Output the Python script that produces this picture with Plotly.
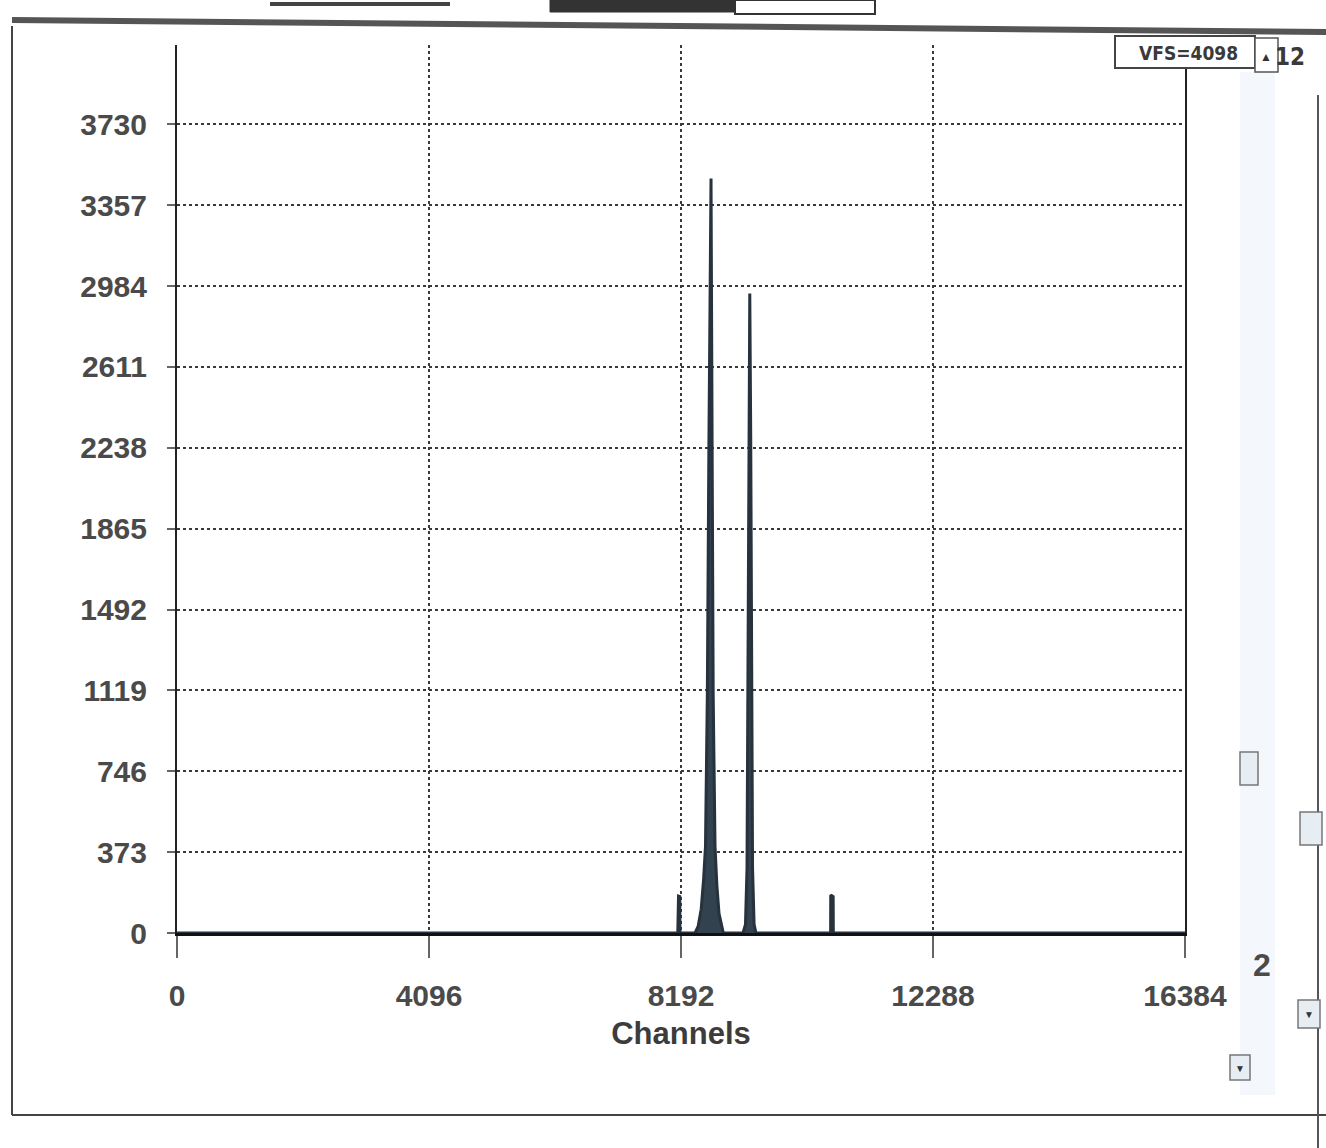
import plotly.graph_objects as go

# ---- data ----
channels = [0, 8140, 8150, 8152, 8172, 8175, 8420, 8470, 8520, 8560, 8590, 8620, 8645, 8662, 8680,
            8698, 8715, 8745, 8775, 8810, 8850, 8880, 9200, 9240, 9265, 9280, 9295, 9310, 9325,
            9340, 9355, 9380, 9410, 10620, 10624, 10626, 10665, 10668, 16384]
counts = [0, 0, 150, 170, 168, 0, 0, 30, 110, 250, 400, 1100, 2230, 3000, 3480,
          2230, 1100, 400, 220, 90, 30, 0, 0, 40, 300, 1200, 2300, 2950, 2300,
          1200, 300, 40, 0, 0, 0, 175, 168, 0, 0]

x_ticks = [0, 4096, 8192, 12288, 16384]
y_ticks = [0, 373, 746, 1119, 1492, 1865, 2238, 2611, 2984, 3357, 3730]
x_range = [0, 16384]
y_range = [0, 4096]

# ---- layout geometry (pixels) ----
W, H = 1326, 1148
L, R, T, B = 177, 1185, 45, 933


def px(x):
    return (x - L) / (R - L)


def py(y):
    return (B - y) / (B - T)


FONT = "Liberation Sans, Arial, sans-serif"
COND = "DejaVu Sans Condensed, Liberation Sans Narrow, sans-serif"
TXT = "#4a4a4a"

fig = go.Figure()
fig.add_trace(go.Scatter(
    x=channels, y=counts, mode="lines", fill="tozeroy",
    line=dict(color="#26323e", width=3),
    fillcolor="#33424f", hoverinfo="x+y", showlegend=False,
))

fig.update_layout(
    width=W, height=H,
    margin=dict(l=L, r=W - R, t=T, b=H - B),
    paper_bgcolor="white", plot_bgcolor="white",
    font=dict(family=FONT, color=TXT, size=30),
    xaxis=dict(
        range=x_range, tickvals=x_ticks, ticktext=["<b>%d</b>" % v for v in x_ticks],
        showgrid=True, gridcolor="#3a3a3a", griddash="dot", gridwidth=1.5,
        ticks="outside", ticklen=22, tickwidth=1.5, tickcolor="#666",
        ticklabelstandoff=12,
        showline=True, linecolor="#111", linewidth=3, mirror=False,
        zeroline=False,
        title=dict(text="<b>Channels</b>", font=dict(size=31, color="#3c3c3c"), standoff=12),
        tickfont=dict(size=30, color=TXT),
    ),
    yaxis=dict(
        range=y_range, tickvals=y_ticks, ticktext=["<b>%d</b>" % v for v in y_ticks],
        showgrid=True, gridcolor="#3a3a3a", griddash="dot", gridwidth=1.5,
        ticks="outside", ticklen=8, tickwidth=1.5, tickcolor="#666",
        ticklabelstandoff=14,
        showline=True, linecolor="#222", linewidth=2, mirror=True,
        zeroline=False,
        tickfont=dict(size=30, color=TXT),
    ),
)

shapes = []
# outer window frame
shapes.append(dict(type="line", xref="paper", yref="paper", x0=px(12), x1=px(12), y0=py(26), y1=py(1115),
                   line=dict(color="#444", width=2)))
shapes.append(dict(type="line", xref="paper", yref="paper", x0=px(12), x1=px(1326), y0=py(1115), y1=py(1115),
                   line=dict(color="#444", width=2)))
shapes.append(dict(type="line", xref="paper", yref="paper", x0=px(12), x1=px(1326), y0=py(20), y1=py(32),
                   line=dict(color="#555", width=6)))
shapes.append(dict(type="line", xref="paper", yref="paper", x0=px(1318), x1=px(1318), y0=py(95), y1=py(1148),
                   line=dict(color="#555", width=2)))
# top tabs (cut off)
shapes.append(dict(type="rect", xref="paper", yref="paper", x0=px(550), x1=px(735), y0=py(0), y1=py(12),
                   fillcolor="#333", line=dict(color="#333", width=1)))
shapes.append(dict(type="rect", xref="paper", yref="paper", x0=px(735), x1=px(875), y0=py(0), y1=py(14),
                   fillcolor="white", line=dict(color="#333", width=2)))
shapes.append(dict(type="line", xref="paper", yref="paper", x0=px(270), x1=px(450), y0=py(4), y1=py(4),
                   line=dict(color="#444", width=4)))
# faint scrollbar track
shapes.append(dict(type="rect", xref="paper", yref="paper", x0=px(1240), x1=px(1275), y0=py(72), y1=py(1095),
                   fillcolor="rgba(230,238,246,0.45)", line=dict(width=0)))
# VFS box and spin control
shapes.append(dict(type="rect", xref="paper", yref="paper", x0=px(1115), x1=px(1255), y0=py(36), y1=py(68),
                   fillcolor="white", line=dict(color="#444", width=2)))
shapes.append(dict(type="rect", xref="paper", yref="paper", x0=px(1255), x1=px(1278), y0=py(38), y1=py(72),
                   fillcolor="white", line=dict(color="#555", width=1.5)))
# scroll thumbs and arrows
for (x0, y0, x1, y1) in [(1240, 752, 1258, 785), (1300, 812, 1322, 845),
                         (1230, 1055, 1250, 1080), (1298, 1000, 1320, 1028)]:
    shapes.append(dict(type="rect", xref="paper", yref="paper", x0=px(x0), x1=px(x1), y0=py(y0), y1=py(y1),
                       fillcolor="#e6edf3", line=dict(color="#777", width=1.5)))
fig.update_layout(shapes=shapes)


def ann(x, y, text, size, family=FONT, color="#333"):
    return dict(x=px(x), y=py(y), xref="paper", yref="paper", text=text, showarrow=False,
                xanchor="center", yanchor="middle", font=dict(family=family, size=size, color=color))


annotations = [
    ann(1188, 53, "<b>VFS=4098</b>", 19, COND, "#3a3a3a"),
    ann(1266, 57, "▲", 12, FONT, "#333"),
    ann(1290, 57, "<b>12</b>", 24, COND, "#3a3a3a"),
    ann(1262, 965, "<b>2</b>", 32, FONT, "#4a4a4a"),
    ann(1240, 1068, "▼", 10, FONT, "#333"),
    ann(1309, 1014, "▼", 10, FONT, "#333"),
]
fig.update_layout(annotations=annotations)

fig.write_html("out.html", config={"displayModeBar": False},
               post_script="document.body.style.margin='0';")
